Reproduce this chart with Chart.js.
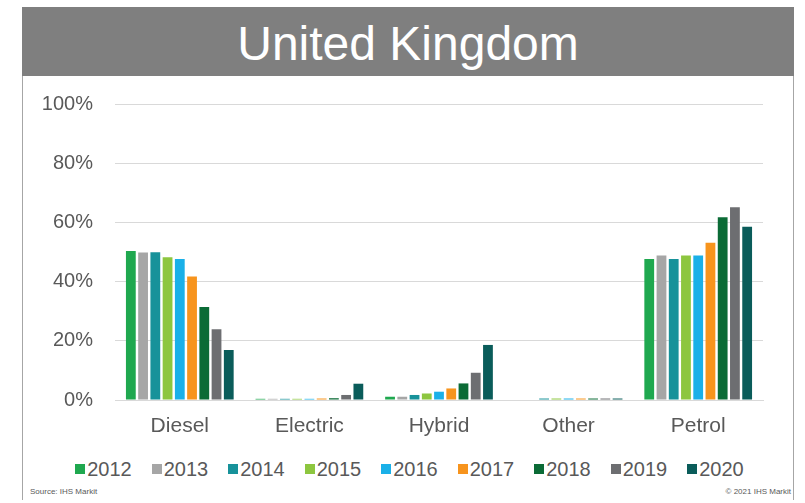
<!DOCTYPE html>
<html>
<head>
<meta charset="utf-8">
<script src="https://cdn.jsdelivr.net/npm/chart.js@4.4.1/dist/chart.umd.min.js"></script>
<style>
    html, body { margin: 0; padding: 0; background: #fff; }
    body { width: 805px; height: 503px; position: relative; overflow: hidden; font-family: 'Liberation Sans', Arial, sans-serif; }
    #frame { position: absolute; left: 22px; top: 7px; width: 770px; height: 493px; border-left: 1px solid #a6a6a6; border-right: 1px solid #a6a6a6; box-sizing: content-box; }
    #title { position: absolute; left: 22px; top: 7px; width: 772px; height: 69px; background: #7f7f7f; color: #fff; font-size: 48px; line-height: 69px; text-align: center; padding-top: 2px; box-sizing: border-box; }
    #chartBox { position: absolute; left: 23px; top: 70px; width: 769px; height: 380px; }
    #legend { position: absolute; left: 7px; width: 805px; top: 458px; text-align: center; font-size: 20px; color: #595959; white-space: nowrap; }
    #legend span.item { display: inline-block; margin: 0 10px; }
    #legend span.box { display: inline-block; width: 10px; height: 10px; margin-right: 2px; vertical-align: 2px; }
    .note { position: absolute; top: 487px; font-size: 8px; color: #595959; }
</style>
</head>
<body>
<div id="frame"></div>
<div id="title">United Kingdom</div>
<div id="chartBox"><canvas id="chart"></canvas></div>
<div id="legend"></div>
<div class="note" style="left: 30px;">Source: IHS Markit</div>
<div class="note" style="right: 14px;">© 2021 IHS Markit</div>
<script>
// Fuel type share of new car sales, UK (%)
const categories = ['Diesel', 'Electric', 'Hybrid', 'Other', 'Petrol'];
const years = ['2012', '2013', '2014', '2015', '2016', '2017', '2018', '2019', '2020'];

const share2012 = [50.3, 0.4, 1.1, 0, 47.6];
const share2013 = [49.8, 0.4, 1.1, 0, 48.8];
const share2014 = [49.9, 0.4, 1.7, 0.5, 47.6];
const share2015 = [48.2, 0.4, 2.2, 0.5, 48.8];
const share2016 = [47.6, 0.4, 2.8, 0.5, 48.8];
const share2017 = [41.7, 0.5, 3.9, 0.5, 53.1];
const share2018 = [31.4, 0.6, 5.6, 0.5, 61.7];
const share2019 = [23.9, 1.7, 9.2, 0.5, 65.1];
const share2020 = [16.9, 5.5, 18.6, 0.5, 58.5];

const yTicks = [0, 20, 40, 60, 80, 100];

const seriesValues = [share2012, share2013, share2014, share2015, share2016, share2017, share2018, share2019, share2020];
const yearColors = ['#1fa84f', '#a6a6a6', '#17929a', '#8dc63f', '#1ab0e8', '#f7941d', '#0b6b36', '#6d6e71', '#0a5c5a'];

const TEXT_GREY = '#595959';
const GRID_GREY = '#d9d9d9';
const FONT = "'Liberation Sans', Arial, sans-serif";

const datasets = years.map((year, i) => ({
    label: year,
    data: seriesValues[i],
    backgroundColor: yearColors[i],
    borderWidth: 0,
    categoryPercentage: 0.85,
    barPercentage: 0.8
}));

new Chart(document.getElementById('chart'), {
    type: 'bar',
    data: { labels: categories, datasets },
    options: {
        responsive: true,
        maintainAspectRatio: false,
        animation: false,
        layout: { padding: { top: 15, right: 29, bottom: 0, left: 0 } },
        plugins: {
            legend: { display: false },
            tooltip: { enabled: false }
        },
        scales: {
            x: {
                grid: { display: false, drawTicks: false },
                border: { color: GRID_GREY },
                ticks: { color: TEXT_GREY, padding: 14, font: { size: 21, family: FONT } },
                afterFit: (scale) => { scale.height = 50; }
            },
            y: {
                min: 0,
                max: 100,
                afterBuildTicks: (scale) => { scale.ticks = yTicks.map(v => ({ value: v })); },
                grid: { color: GRID_GREY, lineWidth: 1, drawTicks: false },
                border: { display: false },
                ticks: {
                    color: TEXT_GREY,
                    padding: 22,
                    font: { size: 20, family: FONT },
                    callback: (v) => v + '%'
                },
                afterFit: (scale) => { scale.width = 92; }
            }
        }
    }
});

// HTML legend, tight box/label spacing like the source
const legendEl = document.getElementById('legend');
years.forEach((year, i) => {
    const item = document.createElement('span');
    item.className = 'item';
    const box = document.createElement('span');
    box.className = 'box';
    box.style.background = yearColors[i];
    item.appendChild(box);
    item.appendChild(document.createTextNode(year));
    legendEl.appendChild(item);
});
</script>
</body>
</html>
